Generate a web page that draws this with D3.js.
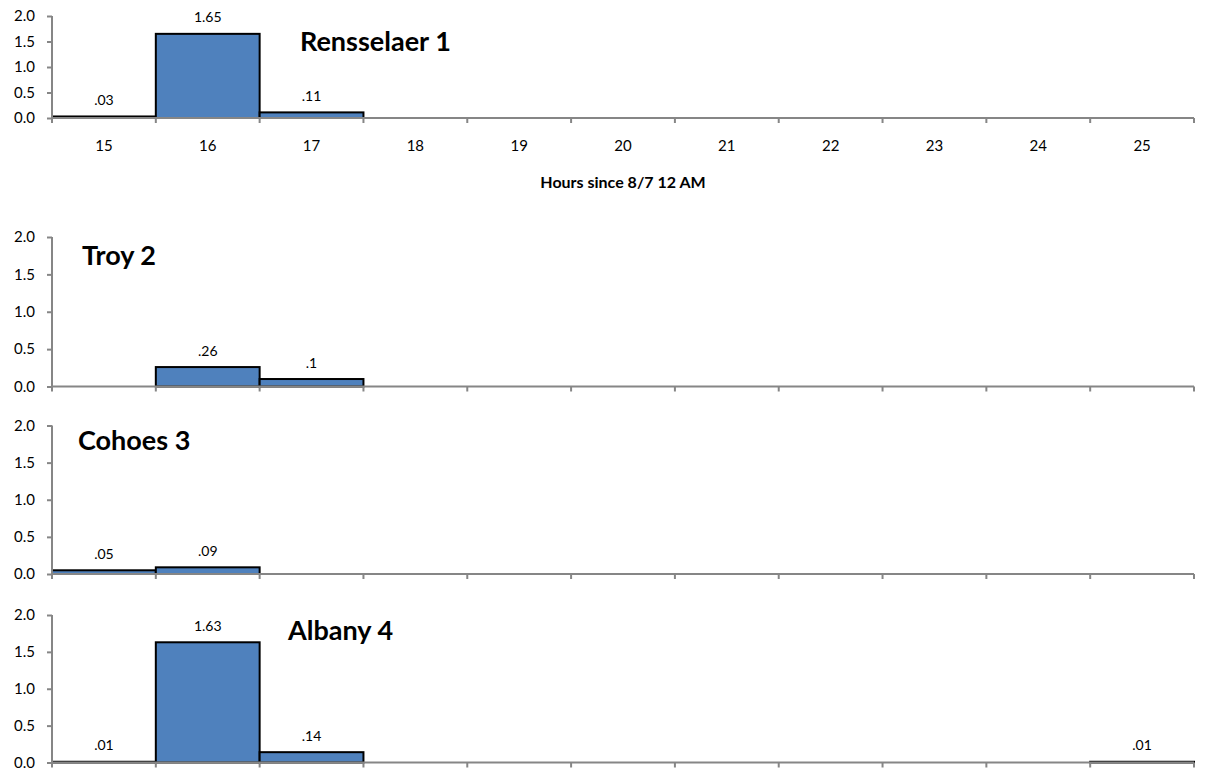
<!DOCTYPE html>
<html>
<head>
<meta charset="utf-8">
<script src="https://cdn.jsdelivr.net/npm/d3@7"></script>
<style>
  html, body { margin: 0; padding: 0; background: #fff; }
  svg { display: block; }
  text { font-family: Lato, "Open Sans", sans-serif; fill: #000; }
</style>
</head>
<body>
<svg id="chart" width="1205" height="777"></svg>
<script>
// ---- data ----
const hours = ["15","16","17","18","19","20","21","22","23","24","25"];
const stations = ["Rensselaer 1", "Troy 2", "Cohoes 3", "Albany 4"];
const rensselaer = [0.03, 1.65, 0.11, null, null, null, null, null, null, null, null];
const troy       = [null, 0.26, 0.1,  null, null, null, null, null, null, null, null];
const cohoes     = [0.05, 0.09, null, null, null, null, null, null, null, null, null];
const albany     = [0.01, 1.63, 0.14, null, null, null, null, null, null, null, 0.01];
const yTicks = [0, 0.5, 1.0, 1.5, 2.0];
const xTitle = "Hours since 8/7 12 AM";

const series = [rensselaer, troy, cohoes, albany];

// ---- layout ----
const panels = [
  { top: 16,    bottom: 118,   title: [300, 51],  labels: true },
  { top: 237,   bottom: 386.5, title: [82, 265],  labels: false },
  { top: 425.5, bottom: 574,   title: [78, 450],  labels: false },
  { top: 615,   bottom: 762.5, title: [288, 640], labels: false }
];
const left = 52, right = 1194;
const axisColor = "#868686";
const barColor = "#4F81BD";

const svg = d3.select("#chart");
const x = d3.scaleBand().domain(hours).range([left, right]).paddingInner(0).paddingOuter(0);
const fmt = v => {
  let s = d3.format(".2f")(v);
  s = s.replace(/0+$/, "").replace(/\.$/, "");
  return s.replace(/^0\./, ".");
};

panels.forEach((p, i) => {
  const y = d3.scaleLinear().domain([0, 2]).range([p.bottom, p.top]);
  const g = svg.append("g");
  const data = hours.map((h, j) => ({ h, v: series[i][j] })).filter(d => d.v != null);

  // bars
  g.selectAll("rect.bar").data(data).join("rect")
    .attr("class", "bar")
    .attr("x", d => x(d.h))
    .attr("y", d => y(d.v))
    .attr("width", x.bandwidth())
    .attr("height", d => y(0) - y(d.v))
    .attr("fill", barColor)
    .attr("stroke", "#000")
    .attr("stroke-width", 2);

  // y axis
  const ya = d3.axisLeft(y).tickValues(yTicks).tickFormat(d3.format(".1f")).tickSize(5).tickPadding(12);
  const yg = g.append("g").attr("transform", `translate(${left},0)`).call(ya);
  yg.select(".domain").attr("stroke", axisColor).attr("stroke-width", 2).attr("d", `M0,${p.top}V${p.bottom}`);
  yg.selectAll(".tick line").attr("stroke", axisColor).attr("stroke-width", 2);
  yg.selectAll(".tick text").attr("font-size", 15).attr("font-family", "Lato, sans-serif").attr("fill", "#000");

  // x axis baseline and boundary ticks
  const xa = d3.axisBottom(x).tickSize(0).tickPadding(22).tickFormat(p.labels ? (d => d) : () => "");
  const xg = g.append("g").attr("transform", `translate(0,${p.bottom})`).call(xa);
  xg.select(".domain").attr("stroke", axisColor).attr("stroke-width", 2).attr("d", `M${left},0H${right}`);
  xg.selectAll(".tick text").attr("font-size", 15).attr("font-family", "Lato, sans-serif").attr("fill", "#000");
  const bounds = hours.map(h => x(h)).concat([x(hours[hours.length - 1]) + x.bandwidth()]);
  xg.selectAll("line.bt").data(bounds).join("line")
    .attr("class", "bt")
    .attr("x1", d => d).attr("x2", d => d)
    .attr("y1", 0).attr("y2", 5)
    .attr("stroke", axisColor).attr("stroke-width", 2);

  // value labels
  g.selectAll("text.val").data(data).join("text")
    .attr("class", "val")
    .attr("x", d => x(d.h) + x.bandwidth() / 2)
    .attr("y", d => y(d.v) - 11.5)
    .attr("text-anchor", "middle")
    .attr("font-size", 14)
    .text(d => fmt(d.v));

  // station title
  g.append("text")
    .attr("x", p.title[0]).attr("y", p.title[1])
    .attr("font-size", 27).attr("font-weight", "bold")
    .text(stations[i]);

  if (p.labels) {
    g.append("text")
      .attr("x", (left + right) / 2).attr("y", 188)
      .attr("text-anchor", "middle")
      .attr("font-size", 16).attr("font-weight", "bold")
      .text(xTitle);
  }
});
</script>
</body>
</html>
